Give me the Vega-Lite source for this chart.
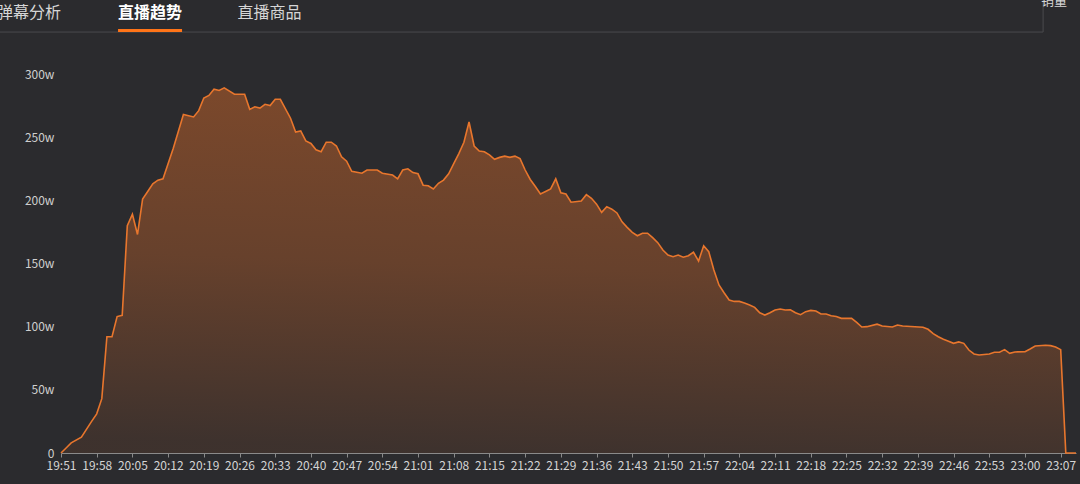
{
  "$schema": "https://vega.github.io/schema/vega-lite/v6.json",
  "width": 1015,
  "height": 379,
  "autosize": {"type": "none"},
  "padding": {"left": 61, "top": 74, "right": 4, "bottom": 31},
  "background": "#2b2b2e",
  "config": {
    "view": {"stroke": null},
    "font": "Noto Sans CJK SC",
    "axis": {"labelFont": "Noto Sans CJK SC"}
  },
  "data": {
    "values": [
      {"t": "2024-01-01T19:51:00", "v": 0},
      {"t": "2024-01-01T19:52:00", "v": 4},
      {"t": "2024-01-01T19:53:00", "v": 8},
      {"t": "2024-01-01T19:55:00", "v": 12.5},
      {"t": "2024-01-01T19:57:00", "v": 25},
      {"t": "2024-01-01T19:58:00", "v": 31},
      {"t": "2024-01-01T19:59:00", "v": 43},
      {"t": "2024-01-01T20:00:00", "v": 92},
      {"t": "2024-01-01T20:01:00", "v": 92},
      {"t": "2024-01-01T20:02:00", "v": 108},
      {"t": "2024-01-01T20:03:00", "v": 109},
      {"t": "2024-01-01T20:04:00", "v": 180},
      {"t": "2024-01-01T20:05:00", "v": 189},
      {"t": "2024-01-01T20:06:00", "v": 173},
      {"t": "2024-01-01T20:07:00", "v": 201},
      {"t": "2024-01-01T20:08:00", "v": 207},
      {"t": "2024-01-01T20:09:00", "v": 213},
      {"t": "2024-01-01T20:10:00", "v": 216},
      {"t": "2024-01-01T20:11:00", "v": 217},
      {"t": "2024-01-01T20:13:00", "v": 241},
      {"t": "2024-01-01T20:15:00", "v": 268},
      {"t": "2024-01-01T20:17:00", "v": 266},
      {"t": "2024-01-01T20:18:00", "v": 271},
      {"t": "2024-01-01T20:19:00", "v": 281},
      {"t": "2024-01-01T20:20:00", "v": 283},
      {"t": "2024-01-01T20:21:00", "v": 288},
      {"t": "2024-01-01T20:22:00", "v": 287},
      {"t": "2024-01-01T20:23:00", "v": 289},
      {"t": "2024-01-01T20:25:00", "v": 284},
      {"t": "2024-01-01T20:27:00", "v": 284},
      {"t": "2024-01-01T20:28:00", "v": 272},
      {"t": "2024-01-01T20:29:00", "v": 274},
      {"t": "2024-01-01T20:30:00", "v": 273},
      {"t": "2024-01-01T20:31:00", "v": 276},
      {"t": "2024-01-01T20:32:00", "v": 275},
      {"t": "2024-01-01T20:33:00", "v": 280},
      {"t": "2024-01-01T20:34:00", "v": 280},
      {"t": "2024-01-01T20:36:00", "v": 265},
      {"t": "2024-01-01T20:37:00", "v": 254},
      {"t": "2024-01-01T20:38:00", "v": 255},
      {"t": "2024-01-01T20:39:00", "v": 247},
      {"t": "2024-01-01T20:40:00", "v": 245},
      {"t": "2024-01-01T20:41:00", "v": 240},
      {"t": "2024-01-01T20:42:00", "v": 238.5},
      {"t": "2024-01-01T20:43:00", "v": 246},
      {"t": "2024-01-01T20:44:00", "v": 246},
      {"t": "2024-01-01T20:45:00", "v": 243},
      {"t": "2024-01-01T20:46:00", "v": 234.5},
      {"t": "2024-01-01T20:47:00", "v": 231},
      {"t": "2024-01-01T20:48:00", "v": 223},
      {"t": "2024-01-01T20:50:00", "v": 221.5},
      {"t": "2024-01-01T20:51:00", "v": 224},
      {"t": "2024-01-01T20:53:00", "v": 224},
      {"t": "2024-01-01T20:54:00", "v": 221.5},
      {"t": "2024-01-01T20:56:00", "v": 220},
      {"t": "2024-01-01T20:57:00", "v": 217},
      {"t": "2024-01-01T20:58:00", "v": 224},
      {"t": "2024-01-01T20:59:00", "v": 225},
      {"t": "2024-01-01T21:00:00", "v": 222},
      {"t": "2024-01-01T21:01:00", "v": 221},
      {"t": "2024-01-01T21:02:00", "v": 212},
      {"t": "2024-01-01T21:03:00", "v": 211.5},
      {"t": "2024-01-01T21:04:00", "v": 209},
      {"t": "2024-01-01T21:05:00", "v": 213.5},
      {"t": "2024-01-01T21:06:00", "v": 216},
      {"t": "2024-01-01T21:07:00", "v": 221},
      {"t": "2024-01-01T21:08:00", "v": 229},
      {"t": "2024-01-01T21:09:00", "v": 237},
      {"t": "2024-01-01T21:10:00", "v": 246},
      {"t": "2024-01-01T21:11:00", "v": 262},
      {"t": "2024-01-01T21:12:00", "v": 243},
      {"t": "2024-01-01T21:13:00", "v": 239},
      {"t": "2024-01-01T21:14:00", "v": 238.5},
      {"t": "2024-01-01T21:15:00", "v": 236},
      {"t": "2024-01-01T21:16:00", "v": 232.5},
      {"t": "2024-01-01T21:17:00", "v": 234},
      {"t": "2024-01-01T21:18:00", "v": 235},
      {"t": "2024-01-01T21:19:00", "v": 234},
      {"t": "2024-01-01T21:20:00", "v": 235},
      {"t": "2024-01-01T21:21:00", "v": 233},
      {"t": "2024-01-01T21:22:00", "v": 224},
      {"t": "2024-01-01T21:23:00", "v": 216.5},
      {"t": "2024-01-01T21:24:00", "v": 211},
      {"t": "2024-01-01T21:25:00", "v": 205},
      {"t": "2024-01-01T21:26:00", "v": 207},
      {"t": "2024-01-01T21:27:00", "v": 209},
      {"t": "2024-01-01T21:28:00", "v": 217},
      {"t": "2024-01-01T21:29:00", "v": 206},
      {"t": "2024-01-01T21:30:00", "v": 205},
      {"t": "2024-01-01T21:31:00", "v": 198.5},
      {"t": "2024-01-01T21:33:00", "v": 199.5},
      {"t": "2024-01-01T21:34:00", "v": 204.5},
      {"t": "2024-01-01T21:35:00", "v": 201.6},
      {"t": "2024-01-01T21:36:00", "v": 197},
      {"t": "2024-01-01T21:37:00", "v": 190.5},
      {"t": "2024-01-01T21:38:00", "v": 195},
      {"t": "2024-01-01T21:39:00", "v": 193},
      {"t": "2024-01-01T21:40:00", "v": 190},
      {"t": "2024-01-01T21:41:00", "v": 183},
      {"t": "2024-01-01T21:42:00", "v": 178.6},
      {"t": "2024-01-01T21:43:00", "v": 174.7},
      {"t": "2024-01-01T21:44:00", "v": 172},
      {"t": "2024-01-01T21:45:00", "v": 174},
      {"t": "2024-01-01T21:46:00", "v": 174},
      {"t": "2024-01-01T21:47:00", "v": 170.5},
      {"t": "2024-01-01T21:48:00", "v": 166.5},
      {"t": "2024-01-01T21:49:00", "v": 160.7},
      {"t": "2024-01-01T21:50:00", "v": 156.7},
      {"t": "2024-01-01T21:51:00", "v": 155.4},
      {"t": "2024-01-01T21:52:00", "v": 156.7},
      {"t": "2024-01-01T21:53:00", "v": 155},
      {"t": "2024-01-01T21:54:00", "v": 156.2},
      {"t": "2024-01-01T21:55:00", "v": 158.9},
      {"t": "2024-01-01T21:56:00", "v": 152},
      {"t": "2024-01-01T21:57:00", "v": 164},
      {"t": "2024-01-01T21:58:00", "v": 159.3},
      {"t": "2024-01-01T21:59:00", "v": 144.9},
      {"t": "2024-01-01T22:00:00", "v": 133},
      {"t": "2024-01-01T22:01:00", "v": 126.9},
      {"t": "2024-01-01T22:02:00", "v": 121.1},
      {"t": "2024-01-01T22:03:00", "v": 120},
      {"t": "2024-01-01T22:04:00", "v": 120},
      {"t": "2024-01-01T22:05:00", "v": 118.7},
      {"t": "2024-01-01T22:06:00", "v": 117.2},
      {"t": "2024-01-01T22:07:00", "v": 115.3},
      {"t": "2024-01-01T22:08:00", "v": 111},
      {"t": "2024-01-01T22:09:00", "v": 109.2},
      {"t": "2024-01-01T22:10:00", "v": 111},
      {"t": "2024-01-01T22:11:00", "v": 113.2},
      {"t": "2024-01-01T22:12:00", "v": 114},
      {"t": "2024-01-01T22:13:00", "v": 113.2},
      {"t": "2024-01-01T22:14:00", "v": 113.4},
      {"t": "2024-01-01T22:15:00", "v": 111},
      {"t": "2024-01-01T22:16:00", "v": 109.5},
      {"t": "2024-01-01T22:17:00", "v": 111.9},
      {"t": "2024-01-01T22:18:00", "v": 112.9},
      {"t": "2024-01-01T22:19:00", "v": 112.4},
      {"t": "2024-01-01T22:20:00", "v": 110},
      {"t": "2024-01-01T22:21:00", "v": 110},
      {"t": "2024-01-01T22:22:00", "v": 108.7},
      {"t": "2024-01-01T22:23:00", "v": 108},
      {"t": "2024-01-01T22:24:00", "v": 106.6},
      {"t": "2024-01-01T22:26:00", "v": 106.6},
      {"t": "2024-01-01T22:27:00", "v": 103.4},
      {"t": "2024-01-01T22:28:00", "v": 99.7},
      {"t": "2024-01-01T22:29:00", "v": 100},
      {"t": "2024-01-01T22:31:00", "v": 102},
      {"t": "2024-01-01T22:32:00", "v": 100.5},
      {"t": "2024-01-01T22:34:00", "v": 99.7},
      {"t": "2024-01-01T22:35:00", "v": 101.3},
      {"t": "2024-01-01T22:36:00", "v": 100.5},
      {"t": "2024-01-01T22:40:00", "v": 99.5},
      {"t": "2024-01-01T22:41:00", "v": 97.9},
      {"t": "2024-01-01T22:42:00", "v": 94.5},
      {"t": "2024-01-01T22:43:00", "v": 92},
      {"t": "2024-01-01T22:44:00", "v": 90},
      {"t": "2024-01-01T22:45:00", "v": 88.5},
      {"t": "2024-01-01T22:46:00", "v": 86.8},
      {"t": "2024-01-01T22:47:00", "v": 87.9},
      {"t": "2024-01-01T22:48:00", "v": 86.8},
      {"t": "2024-01-01T22:49:00", "v": 81.5},
      {"t": "2024-01-01T22:50:00", "v": 78.4},
      {"t": "2024-01-01T22:51:00", "v": 77.6},
      {"t": "2024-01-01T22:53:00", "v": 78.4},
      {"t": "2024-01-01T22:54:00", "v": 79.7},
      {"t": "2024-01-01T22:55:00", "v": 79.7},
      {"t": "2024-01-01T22:56:00", "v": 81.8},
      {"t": "2024-01-01T22:57:00", "v": 78.9},
      {"t": "2024-01-01T22:58:00", "v": 80},
      {"t": "2024-01-01T23:00:00", "v": 80.2},
      {"t": "2024-01-01T23:01:00", "v": 82.3},
      {"t": "2024-01-01T23:02:00", "v": 84.7},
      {"t": "2024-01-01T23:04:00", "v": 85.3},
      {"t": "2024-01-01T23:05:00", "v": 85},
      {"t": "2024-01-01T23:06:00", "v": 83.9},
      {"t": "2024-01-01T23:07:00", "v": 81.8},
      {"t": "2024-01-01T23:08:00", "v": 0},
      {"t": "2024-01-01T23:09:00", "v": 0},
      {"t": "2024-01-01T23:10:00", "v": 0}
    ]
  },
  "layer": [
    {
      "mark": {
        "type": "area",
        "color": {
          "gradient": "linear",
          "x1": 0.55, "y1": 0, "x2": 0.45, "y2": 1,
          "stops": [
            {"offset": 0, "color": "rgba(232,112,40,0.62)"},
            {"offset": 0.5, "color": "rgba(232,112,40,0.45)"},
            {"offset": 1, "color": "rgba(232,112,40,0.14)"}
          ]
        },
        "line": {"color": "#e8762d", "strokeWidth": 1.6}
      },
      "encoding": {
        "x": {
          "field": "t",
          "type": "temporal",
          "scale": {
            "domain": [
              {"year": 2024, "month": 1, "date": 1, "hours": 19, "minutes": 51},
              {"year": 2024, "month": 1, "date": 1, "hours": 23, "minutes": 10}
            ]
          },
          "axis": {
            "title": null,
            "grid": false,
            "format": "%H:%M",
            "tickCount": 60,
            "labelOverlap": false,
            "labelFlush": false,
            "labelColor": "#d4d4d4",
            "labelFontSize": 12,
            "labelPadding": 3,
            "domainColor": "#8a8a8a",
            "tickColor": "#8a8a8a",
            "tickSize": 4,
            "values": [
              {"year": 2024, "month": 1, "date": 1, "hours": 19, "minutes": 51},
              {"year": 2024, "month": 1, "date": 1, "hours": 19, "minutes": 58},
              {"year": 2024, "month": 1, "date": 1, "hours": 20, "minutes": 5},
              {"year": 2024, "month": 1, "date": 1, "hours": 20, "minutes": 12},
              {"year": 2024, "month": 1, "date": 1, "hours": 20, "minutes": 19},
              {"year": 2024, "month": 1, "date": 1, "hours": 20, "minutes": 26},
              {"year": 2024, "month": 1, "date": 1, "hours": 20, "minutes": 33},
              {"year": 2024, "month": 1, "date": 1, "hours": 20, "minutes": 40},
              {"year": 2024, "month": 1, "date": 1, "hours": 20, "minutes": 47},
              {"year": 2024, "month": 1, "date": 1, "hours": 20, "minutes": 54},
              {"year": 2024, "month": 1, "date": 1, "hours": 21, "minutes": 1},
              {"year": 2024, "month": 1, "date": 1, "hours": 21, "minutes": 8},
              {"year": 2024, "month": 1, "date": 1, "hours": 21, "minutes": 15},
              {"year": 2024, "month": 1, "date": 1, "hours": 21, "minutes": 22},
              {"year": 2024, "month": 1, "date": 1, "hours": 21, "minutes": 29},
              {"year": 2024, "month": 1, "date": 1, "hours": 21, "minutes": 36},
              {"year": 2024, "month": 1, "date": 1, "hours": 21, "minutes": 43},
              {"year": 2024, "month": 1, "date": 1, "hours": 21, "minutes": 50},
              {"year": 2024, "month": 1, "date": 1, "hours": 21, "minutes": 57},
              {"year": 2024, "month": 1, "date": 1, "hours": 22, "minutes": 4},
              {"year": 2024, "month": 1, "date": 1, "hours": 22, "minutes": 11},
              {"year": 2024, "month": 1, "date": 1, "hours": 22, "minutes": 18},
              {"year": 2024, "month": 1, "date": 1, "hours": 22, "minutes": 25},
              {"year": 2024, "month": 1, "date": 1, "hours": 22, "minutes": 32},
              {"year": 2024, "month": 1, "date": 1, "hours": 22, "minutes": 39},
              {"year": 2024, "month": 1, "date": 1, "hours": 22, "minutes": 46},
              {"year": 2024, "month": 1, "date": 1, "hours": 22, "minutes": 53},
              {"year": 2024, "month": 1, "date": 1, "hours": 23, "minutes": 0},
              {"year": 2024, "month": 1, "date": 1, "hours": 23, "minutes": 7}
            ]
          }
        },
        "y": {
          "field": "v",
          "type": "quantitative",
          "scale": {"domain": [0, 300], "nice": false},
          "axis": {
            "title": null,
            "grid": false,
            "domain": false,
            "ticks": false,
            "tickCount": 10,
            "values": [0, 50, 100, 150, 200, 250, 300],
            "labelExpr": "datum.value == 0 ? '0' : datum.value + 'w'",
            "labelColor": "#cfcfcf",
            "labelFontSize": 12,
            "labelPadding": 7
          }
        }
      }
    },
    {
      "data": {"values": [{}]},
      "mark": {"type": "rule", "color": "#4a4a4e", "strokeWidth": 1},
      "encoding": {
        "x": {"datum": {"year": 2024, "month": 1, "date": 1, "hours": 19, "minutes": 38, "seconds": 0}, "type": "temporal"},
        "x2": {"datum": {"year": 2024, "month": 1, "date": 1, "hours": 23, "minutes": 3, "seconds": 33}},
        "y": {"datum": 333.2}
      }
    },
    {
      "data": {"values": [{}]},
      "mark": {"type": "rule", "color": "#4a4a4e", "strokeWidth": 1},
      "encoding": {
        "x": {"datum": {"year": 2024, "month": 1, "date": 1, "hours": 23, "minutes": 3, "seconds": 33}, "type": "temporal"},
        "y": {"datum": 333.2},
        "y2": {"datum": 362}
      }
    },
    {
      "data": {"values": [{}]},
      "mark": {"type": "rule", "color": "#ff7418", "strokeWidth": 3},
      "encoding": {
        "x": {"datum": {"year": 2024, "month": 1, "date": 1, "hours": 20, "minutes": 2, "seconds": 11}, "type": "temporal"},
        "x2": {"datum": {"year": 2024, "month": 1, "date": 1, "hours": 20, "minutes": 14, "seconds": 44}},
        "y": {"datum": 334.4}
      }
    },
    {
      "data": {"values": [{}]},
      "mark": {"type": "text", "fontSize": 16, "color": "#d6d6d6", "align": "center", "baseline": "middle"},
      "encoding": {
        "x": {"datum": {"year": 2024, "month": 1, "date": 1, "hours": 19, "minutes": 44, "seconds": 44}, "type": "temporal"},
        "y": {"datum": 348.5},
        "text": {"value": "弹幕分析"}
      }
    },
    {
      "data": {"values": [{}]},
      "mark": {"type": "text", "fontSize": 16, "fontWeight": "bold", "color": "#ffffff", "align": "center", "baseline": "middle"},
      "encoding": {
        "x": {"datum": {"year": 2024, "month": 1, "date": 1, "hours": 20, "minutes": 8, "seconds": 27}, "type": "temporal"},
        "y": {"datum": 348.5},
        "text": {"value": "直播趋势"}
      }
    },
    {
      "data": {"values": [{}]},
      "mark": {"type": "text", "fontSize": 16, "color": "#d6d6d6", "align": "center", "baseline": "middle"},
      "encoding": {
        "x": {"datum": {"year": 2024, "month": 1, "date": 1, "hours": 20, "minutes": 31, "seconds": 53}, "type": "temporal"},
        "y": {"datum": 348.5},
        "text": {"value": "直播商品"}
      }
    },
    {
      "data": {"values": [{}]},
      "mark": {"type": "text", "fontSize": 13, "color": "#d6d6d6", "align": "center", "baseline": "middle"},
      "encoding": {
        "x": {"datum": {"year": 2024, "month": 1, "date": 1, "hours": 23, "minutes": 5, "seconds": 42}, "type": "temporal"},
        "y": {"datum": 357.5},
        "text": {"value": "销量"}
      }
    }
  ]
}
